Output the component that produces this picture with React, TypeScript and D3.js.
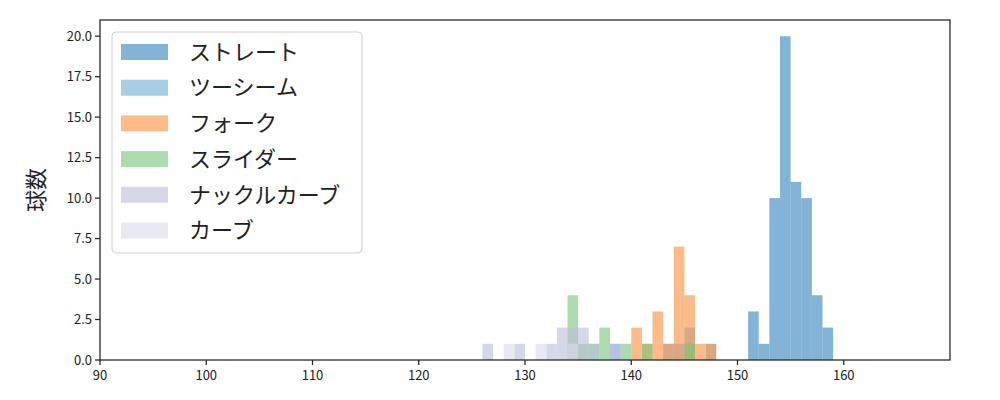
import React from 'react';
import * as d3 from 'd3';

// histogram of pitch speed (km/h) by pitch type, 1 km/h bins
const seriesNames = ['ストレート', 'ツーシーム', 'フォーク', 'スライダー', 'ナックルカーブ', 'カーブ'];
const seriesColors = ['#3182bd', '#6baed6', '#fd8d3c', '#74c476', '#bcbddc', '#dadaeb'];

// bin lower edges and counts per series
const straightBins = [151, 152, 153, 154, 155, 156, 157, 158];
const straightCounts = [3, 1, 10, 20, 11, 10, 4, 2];
const twoSeamBins = [138, 143, 144, 145, 147];
const twoSeamCounts = [1, 1, 1, 2, 1];
const forkBins = [140, 141, 142, 143, 144, 145, 146, 147];
const forkCounts = [2, 1, 3, 1, 7, 4, 1, 1];
const sliderBins = [134, 135, 136, 137, 139, 141, 145];
const sliderCounts = [4, 1, 1, 2, 1, 1, 1];
const knuckleBins = [126, 129, 132, 133, 134, 135, 136, 138];
const knuckleCounts = [1, 1, 1, 2, 2, 2, 1, 1];
const curveBins = [128, 131, 134];
const curveCounts = [1, 1, 1];

const xTicks = [90, 100, 110, 120, 130, 140, 150, 160];
const yTicks = [0, 2.5, 5, 7.5, 10, 12.5, 15, 17.5, 20];

const allBins = [straightBins, twoSeamBins, forkBins, sliderBins, knuckleBins, curveBins];
const allCounts = [straightCounts, twoSeamCounts, forkCounts, sliderCounts, knuckleCounts, curveCounts];

const W = 1000;
const H = 400;
const margin = { top: 20, right: 50, bottom: 40, left: 100 };
const FONT = '"Noto Sans CJK JP", "DejaVu Sans", sans-serif';

export default function App() {
  const x = d3.scaleLinear().domain([90, 170]).range([margin.left, W - margin.right]);
  const y = d3.scaleLinear().domain([0, 21]).range([H - margin.bottom, margin.top]);
  const binW = 1;

  const legendX = 112;
  const legendY = 32;
  const rowH = 35.7;

  return (
    <svg width={W} height={H} style={{ position: 'absolute', left: 0, top: 0, fontFamily: FONT }}>
      <rect x={0} y={0} width={W} height={H} fill="#fff" />
      {allBins.map((bins, si) =>
        bins.map((b, i) => (
          <rect
            key={`${si}-${i}`}
            x={x(b)}
            y={y(allCounts[si][i])}
            width={x(b + binW) - x(b)}
            height={y(0) - y(allCounts[si][i])}
            fill={seriesColors[si]}
            fillOpacity={0.6}
          />
        ))
      )}
      {/* axes frame */}
      <rect
        x={margin.left}
        y={margin.top}
        width={W - margin.left - margin.right}
        height={H - margin.top - margin.bottom}
        fill="none"
        stroke="#222"
        strokeWidth={1.25}
      />
      {xTicks.map((t) => (
        <g key={`xt${t}`}>
          <line x1={x(t)} x2={x(t)} y1={y(0)} y2={y(0) + 5} stroke="#222" strokeWidth={1.25} />
          <text x={x(t)} y={y(0) + 20} textAnchor="middle" fontSize={13} fill="#222">{t}</text>
        </g>
      ))}
      {yTicks.map((t) => (
        <g key={`yt${t}`}>
          <line x1={margin.left - 5} x2={margin.left} y1={y(t)} y2={y(t)} stroke="#222" strokeWidth={1.25} />
          <text x={margin.left - 8} y={y(t)} dy="0.35em" textAnchor="end" fontSize={13} fill="#222">{t.toFixed(1)}</text>
        </g>
      ))}
      <text
        transform={`translate(36, ${(margin.top + H - margin.bottom) / 2}) rotate(-90)`}
        textAnchor="middle"
        dy="0.35em"
        fontSize={22}
        fill="#222"
      >球数</text>
      {/* legend */}
      <rect x={legendX} y={legendY} width={250} height={221} rx={4} fill="#fff" fillOpacity={0.8} stroke="#d0d0d0" />
      {seriesNames.map((name, i) => (
        <g key={name} transform={`translate(${legendX + 9}, ${legendY + 20 + i * rowH})`}>
          <rect x={0} y={-8} width={47} height={16} fill={seriesColors[i]} fillOpacity={0.6} />
          <text x={68} y={0} dy="0.35em" fontSize={22} fill="#222">{name}</text>
        </g>
      ))}
    </svg>
  );
}
